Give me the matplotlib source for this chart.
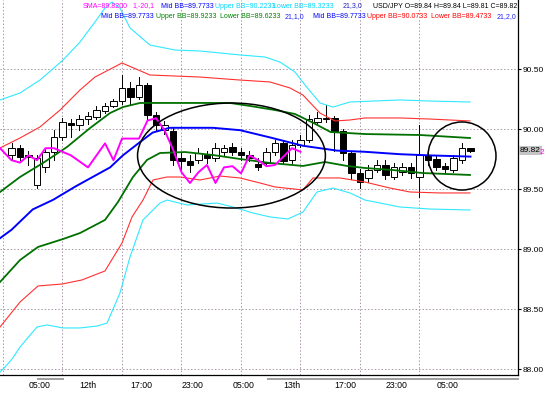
import matplotlib
matplotlib.use("Agg")
import matplotlib.pyplot as plt
from matplotlib.patches import Rectangle, Ellipse

plt.rcParams['font.family'] = ['Liberation Sans', 'DejaVu Sans']

# ---------------- data (USD/JPY candles) ----------------
opens = [89.78, 89.84, 89.78, 89.53, 89.68, 89.81, 89.93, 90.05, 90.03, 90.08,
         90.10, 90.15, 90.19, 90.23, 90.34, 90.27, 90.37, 90.12, 89.99, 89.98,
         89.76, 89.73, 89.74, 89.78, 89.76, 89.81, 89.85, 89.81, 89.78, 89.71,
         89.72, 89.81, 89.88, 89.74, 89.87, 89.91, 90.06, 90.08, 90.09, 89.98,
         89.80, 89.63, 89.59, 89.66, 89.70, 89.60, 89.64, 89.68, 89.60, 89.78,
         89.75, 89.69, 89.66, 89.74, 89.84]
highs = [89.88, 89.87, 89.82, 89.78, 89.84, 89.99, 90.09, 90.08, 90.12, 90.14,
         90.19, 90.22, 90.25, 90.45, 90.39, 90.43, 90.38, 90.14, 90.07, 90.01,
         89.81, 89.78, 89.84, 89.82, 89.88, 89.87, 89.88, 89.84, 89.82, 89.76,
         89.84, 89.91, 89.91, 89.91, 89.95, 90.12, 90.14, 90.20, 90.11, 90.00,
         89.81, 89.67, 89.70, 89.74, 89.74, 89.72, 89.72, 89.72, 90.03, 89.81,
         89.78, 89.72, 89.78, 89.88, 89.84]
lows = [89.74, 89.74, 89.70, 89.51, 89.64, 89.74, 89.91, 89.93, 89.99, 90.04,
        90.08, 90.13, 90.18, 90.21, 90.21, 90.25, 90.08, 89.99, 89.96, 89.70,
        89.66, 89.64, 89.72, 89.72, 89.73, 89.78, 89.78, 89.74, 89.73, 89.66,
        89.70, 89.78, 89.72, 89.72, 89.85, 89.89, 90.03, 90.06, 89.82, 89.74,
        89.58, 89.51, 89.56, 89.64, 89.58, 89.58, 89.62, 89.59, 89.43, 89.70,
        89.66, 89.64, 89.64, 89.72, 89.81]
closes = [89.84, 89.77, 89.77, 89.76, 89.81, 89.93, 90.06, 90.03, 90.08, 90.11,
          90.16, 90.19, 90.23, 90.34, 90.27, 90.37, 90.12, 90.03, 90.03, 89.74,
          89.73, 89.70, 89.80, 89.76, 89.84, 89.84, 89.81, 89.78, 89.76, 89.68,
          89.81, 89.88, 89.73, 89.87, 89.91, 90.08, 90.09, 90.09, 89.98, 89.80,
          89.63, 89.56, 89.66, 89.70, 89.62, 89.68, 89.68, 89.63, 89.78, 89.74,
          89.68, 89.67, 89.76, 89.84, 89.82]

# Bollinger mid (21) - blue
mid_x = [-1.35, 0.0, 2.5, 4.9, 7.5, 9.8, 11.6, 13.1, 15.1, 16.6, 18.6, 23.7,
         26.9, 30.4, 34.3, 38.3, 41.6, 45.7, 49.2, 54.0]
mid_y = [89.09, 89.16, 89.33, 89.41, 89.52, 89.61, 89.68, 89.78, 89.89, 89.97,
         90.01, 90.01, 89.99, 89.93, 89.86, 89.82, 89.81, 89.79, 89.78, 89.77]

# 1-sigma bands - green
up1_x = [-1.35, 1.0, 3.71, 6.53, 9.24, 11.59, 13.12, 15.12, 25.71, 28.06, 31.0,
         33.35, 35.53, 37.53, 41.59, 48.06, 53.94]
up1_y = [89.475, 89.60, 89.717, 89.85, 90.008, 90.133, 90.183, 90.217, 90.217,
         90.192, 90.158, 90.125, 90.05, 89.975, 89.958, 89.95, 89.925]
lo1_x = [-1.35, 1.0, 3.12, 6.06, 8.06, 11.0, 12.53, 14.29, 15.94, 17.47, 20.41,
         23.71, 26.88, 30.41, 34.29, 36.88, 39.47, 41.59, 44.88, 48.41, 53.94]
lo1_y = [88.725, 88.908, 89.017, 89.083, 89.133, 89.242, 89.392, 89.60, 89.742,
         89.80, 89.808, 89.783, 89.75, 89.717, 89.692, 89.725, 89.692, 89.675,
         89.658, 89.633, 89.617]

# 2-sigma bands - red
up2_x = [-1.35, 1.0, 3.35, 5.71, 8.06, 9.82, 13.0, 16.29, 22.18, 26.88, 30.41,
         32.76, 34.29, 36.29, 38.06, 39.82, 41.59, 45.71, 49.24, 53.94]
up2_y = [89.842, 89.925, 90.017, 90.158, 90.325, 90.433, 90.55, 90.45, 90.433,
         90.408, 90.392, 90.342, 90.283, 90.133, 90.067, 90.075, 90.092, 90.092,
         90.083, 90.067]
lo2_x = [-1.35, 1.0, 3.12, 5.94, 8.29, 11.0, 13.0, 14.18, 15.47, 16.65, 18.29,
         19.82, 22.18, 24.53, 26.88, 29.24, 31.0, 34.29, 35.47, 38.65, 41.59,
         44.53, 46.88, 50.41, 53.94]
lo2_y = [88.35, 88.558, 88.692, 88.708, 88.742, 88.817, 89.05, 89.267, 89.408,
         89.575, 89.60, 89.60, 89.575, 89.608, 89.592, 89.55, 89.517, 89.492,
         89.592, 89.592, 89.558, 89.508, 89.475, 89.467, 89.467]

# 3-sigma bands - cyan
up3_x = [-1.35, 1.0, 3.35, 6.06, 8.06, 9.82, 11.0, 11.82, 12.76, 13.94, 16.29,
         19.24, 22.18, 26.88, 29.82, 31.59, 33.35, 34.53, 36.29, 37.82, 39.82,
         45.71, 49.24, 53.94]
up3_y = [90.242, 90.30, 90.408, 90.575, 90.725, 90.892, 91.008, 91.058, 91.008,
         90.842, 90.70, 90.658, 90.65, 90.617, 90.60, 90.558, 90.475, 90.367,
         90.217, 90.183, 90.225, 90.242, 90.233, 90.225]
lo3_x = [-1.35, -0.76, 0.06, 1.0, 3.0, 4.18, 6.06, 8.06, 10.06, 11.24, 12.76,
         13.94, 15.47, 17.47, 18.29, 20.65, 24.18, 26.06, 28.41, 30.41, 32.53,
         34.29, 35.94, 37.82, 39.82, 41.59, 45.71, 49.24, 53.94]
lo3_y = [87.975, 88.017, 88.083, 88.183, 88.35, 88.367, 88.342, 88.342, 88.358,
         88.383, 88.633, 88.933, 89.242, 89.383, 89.408, 89.367, 89.383, 89.35,
         89.30, 89.267, 89.25, 89.308, 89.475, 89.508, 89.467, 89.408, 89.35,
         89.333, 89.325]

# SMA(1) shifted -20 - magenta
sma_x = [-1.35] + list(range(0, 35))
sma_y = [89.84, 89.74, 89.72, 89.78, 89.74, 89.84, 89.84, 89.81, 89.78, 89.73,
         89.68, 89.78, 89.88, 89.74, 89.92, 89.92, 89.92, 90.07, 90.09, 89.99,
         89.83, 89.64, 89.55, 89.64, 89.70, 89.55, 89.68, 89.69, 89.63, 89.78,
         89.74, 89.69, 89.70, 89.77, 89.84, 89.81]

price_ticks = [88.00, 88.50, 89.00, 89.50, 90.00, 90.50]
time_labels = ["05:00", "12th", "17:00", "23:00", "05:00", "13th", "17:00", "23:00", "05:00"]
time_label_idx = [2, 8, 14, 20, 26, 32, 38, 44, 50]
grid_idx = [-1, 6, 13, 20, 27, 34, 41, 48]
last_price = 89.82

# ---------------- figure ----------------
W, H = 548, 393
fig = plt.figure(figsize=(W / 100, H / 100), dpi=100)
fig.patch.set_facecolor('white')
ax = fig.add_axes([0, 18 / H, 518 / W, 375 / H])
ax.set_xlim(-1.353, 59.59)
ax.set_ylim(87.95, 91.075)

for s in ['left', 'top']:
    ax.spines[s].set_visible(False)
for s in ['right', 'bottom']:
    ax.spines[s].set_color('black')
    ax.spines[s].set_linewidth(0.9)

gridkw = dict(color='#a898a8', linestyle=(0, (1.5, 2.0)), linewidth=0.7, zorder=0)
for p in price_ticks:
    ax.axhline(p, **gridkw)
for g in grid_idx:
    ax.axvline(g, **gridkw)

# candles
bw = 0.8
for i, (o, h, l, c) in enumerate(zip(opens, highs, lows, closes)):
    ax.plot([i, i], [l, h], color='black', linewidth=0.7, zorder=2)
    bottom = min(o, c)
    height = max(abs(c - o), 0.004)
    face = 'white' if c >= o else 'black'
    ax.add_patch(Rectangle((i - bw / 2, bottom), bw, height, facecolor=face,
                           edgecolor='black', linewidth=0.7, zorder=3))

# indicator lines
ax.plot(up3_x, up3_y, color='#30e8ff', linewidth=0.8, zorder=4)
ax.plot(lo3_x, lo3_y, color='#30e8ff', linewidth=0.8, zorder=4)
ax.plot(up2_x, up2_y, color='#ff3030', linewidth=0.8, zorder=4)
ax.plot(lo2_x, lo2_y, color='#ff3030', linewidth=0.8, zorder=4)
ax.plot(up1_x, up1_y, color='#007000', linewidth=1.3, zorder=4)
ax.plot(lo1_x, lo1_y, color='#007000', linewidth=1.3, zorder=4)
ax.plot(mid_x, mid_y, color='#0000ff', linewidth=1.4, zorder=4)
ax.plot(sma_x, sma_y, color='#ff00ff', linewidth=1.4, zorder=4)

# annotation ellipses
ax.add_patch(Ellipse((25.88, 89.779), 22.1, 0.875, fill=False, edgecolor='black',
                     linewidth=1.1, zorder=5))
ax.add_patch(Ellipse((53.0, 89.775), 8.0, 0.567, fill=False, edgecolor='black',
                     linewidth=1.1, zorder=5))

# right price axis
ax.yaxis.tick_right()
ax.set_yticks(price_ticks)
ax.set_yticklabels([f"{p:.2f}" for p in price_ticks])
ax.tick_params(axis='y', length=2, width=0.8, pad=1, labelsize=6, colors='black')

# bottom time axis
ax.set_xticks(time_label_idx)
ax.set_xticklabels(time_labels, ha='left')
ax.tick_params(axis='x', length=0, pad=4, labelsize=6.3)

# current price label
ax.text(1.004, last_price, "89.82", transform=ax.get_yaxis_transform(), fontsize=6,
        va='center', ha='left', color='black',
        bbox=dict(boxstyle='square,pad=0.12', facecolor='#c4c4c4', edgecolor='none'))
fig.text(540 / W, 1 - 152.5 / H, "2", color='#ff00ff', fontsize=6, va='center', ha='left')

# day separator bars under the time axis
for x0, x1 in [(38, 63), (268, 518)]:
    fig.add_artist(plt.Line2D([x0 / W, x1 / W], [1 - 379 / H, 1 - 379 / H],
                              color='#a0a0a0', linewidth=1.4))

# indicator legends
row1 = [("SMA=89.8200", '#ff00ff', 83), ("1,-20,1", '#ff00ff', 132),
        ("Mid BB=89.7733", '#0000ff', 161), ("Upper BB=90.2233", '#00d8ff', 215),
        ("Lower BB=89.3233", '#00d8ff', 273), ("21,3,0", '#2020c0', 343)]
row2 = [("Mid BB=89.7733", '#0000ff', 101), ("Upper BB=89.9233", '#008000', 156),
        ("Lower BB=89.6233", '#008000', 220), ("21,1,0", '#2020ff', 285),
        ("Mid BB=89.7733", '#0000ff', 313), ("Upper BB=90.0733", '#ff0000', 367),
        ("Lower BB=89.4733", '#ff0000', 431), ("21,2,0", '#2020ff', 497)]
for txt, col, xp in row1:
    fig.text(xp / W, 1 - 6 / H, txt, color=col, fontsize=5, va='center', ha='left')
for txt, col, xp in row2:
    fig.text(xp / W, 1 - 17 / H, txt, color=col, fontsize=5, va='center', ha='left')
fig.text(517 / W, 1 - 6 / H, "USD/JPY O=89.84 H=89.84 L=89.81 C=89.82", color='black',
         fontsize=5, va='center', ha='right')

fig.savefig("out.png", dpi=100, facecolor='white')
